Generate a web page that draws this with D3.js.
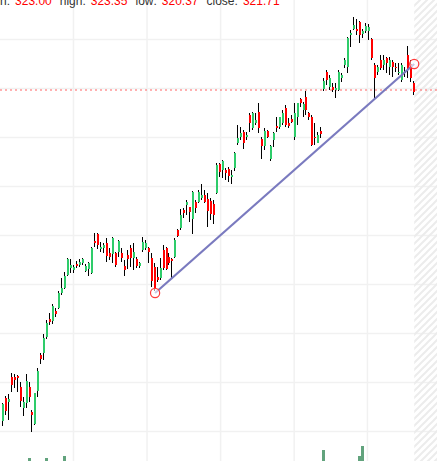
<!DOCTYPE html>
<html>
<head>
<meta charset="utf-8">
<script src="https://cdn.jsdelivr.net/npm/d3@7"></script>
<style>
  html, body { margin: 0; padding: 0; background: #fff; overflow: hidden; }
  svg { display: block; }
</style>
</head>
<body>
<svg id="chart" width="437" height="461"></svg>
<script>
// Daily candles, oldest first. Prices.
const open = [
  287.9,290.2,289.8,292.3,292.3,292.4,291.3,289.2,289.7,291.3,
  288.8,287.6,290.9,294.5,294.7,296.3,298.1,297.9,298.9,299.2,
  300.7,301.2,302.5,303.2,303.0,303.6,303.5,303.7,302.9,303.1,
  302.7,305.9,306.6,305.1,305.2,305.7,304.7,304.6,304.7,304.8,
  304.7,303.4,304.5,305.2,304.2,304.1,303.4,305.0,305.2,305.2,
  304.2,303.3,302.3,302.2,305.0,305.2,304.3,304.1,304.3,307.0,
  307.2,309.0,309.5,309.3,308.1,309.8,309.8,310.2,310.5,310.1,
  309.9,309.6,310.7,313.6,313.0,313.0,313.1,312.3,313.2,315.7,
  316.3,316.8,316.3,318.5,317.2,317.7,318.8,316.1,315.4,316.9,
  314.1,316.0,317.4,317.3,317.7,319.2,317.7,318.1,316.3,318.3,
  320.1,319.0,320.3,318.7,318.3,316.3,315.7,316.9,321.1,322.8,
  321.3,321.3,321.0,321.0,322.2,323.5,323.3,326.5,327.1,327.1,
  327.8,326.6,326.9,326.9,326.1,323.5,322.8,324.0,323.5,324.2,
  323.3,323.8,323.3,322.7,322.0,322.8,324.5,323.6,321.7
];
const high = [
  289.7,290.4,290.6,292.7,292.6,292.5,291.8,290.3,292.6,291.8,
  289.0,290.7,293.2,294.7,296.6,298.0,298.7,299.6,299.2,300.9,
  302.2,302.8,304.2,304.1,303.5,303.9,304.1,304.2,303.6,303.8,
  305.3,306.7,306.7,305.8,305.7,306.2,305.2,306.3,304.8,306.0,
  305.2,304.0,305.0,305.5,305.7,304.3,303.8,306.3,306.0,305.3,
  304.7,303.7,303.3,304.2,305.5,305.3,304.7,304.2,306.2,307.1,
  309.1,309.2,310.0,309.3,310.9,310.0,311.0,311.6,311.0,310.7,
  310.2,310.0,313.7,313.7,314.0,313.2,313.3,313.0,314.8,317.5,
  317.3,317.0,316.8,318.7,318.8,318.7,319.7,316.3,317.2,317.0,
  315.5,316.8,318.3,318.3,319.0,319.5,318.2,318.5,319.7,319.7,
  320.2,319.8,320.9,318.8,318.5,317.7,316.8,317.3,322.2,323.0,
  322.5,321.7,321.7,323.0,322.7,324.2,326.3,327.0,328.3,328.1,
  327.9,327.1,327.7,327.6,326.2,323.7,323.5,324.5,324.5,324.3,
  324.3,324.0,323.7,323.7,323.7,323.3,325.4,324.0,321.9
];
const low = [
  287.4,288.5,288.0,290.8,291.2,290.8,289.3,288.4,289.2,289.8,
  286.8,287.5,290.3,293.6,294.0,296.1,297.5,297.6,298.3,299.1,
  300.5,301.1,302.4,302.7,302.7,303.2,303.3,303.5,302.8,302.4,
  302.6,305.3,305.1,304.8,304.7,303.8,304.0,303.7,303.3,304.3,
  303.8,302.4,303.1,303.3,303.0,303.2,303.2,304.8,305.0,303.7,
  301.3,300.9,301.8,302.0,303.0,303.0,303.5,302.2,304.2,306.3,
  307.0,308.2,308.5,307.8,306.6,308.7,309.7,310.0,309.7,307.3,
  308.0,307.6,310.6,312.3,312.2,312.0,311.8,311.6,312.9,315.5,
  316.0,315.1,316.0,316.8,317.0,317.5,316.7,314.1,315.0,316.2,
  313.9,315.3,316.8,317.1,317.5,317.3,317.2,317.7,316.0,317.5,
  319.3,318.3,318.5,318.0,315.4,315.5,315.7,316.2,320.9,321.5,
  321.0,320.8,320.2,320.9,321.8,323.2,322.7,325.3,327.0,326.5,
  325.7,326.2,326.7,326.0,324.0,320.0,322.5,323.0,323.0,322.7,
  322.5,322.3,322.8,322.5,321.8,322.3,322.2,321.8,320.5
];
const close = [
  289.6,288.9,290.1,291.5,292.0,292.2,289.9,289.8,291.9,290.3,
  288.5,290.7,292.9,294.1,296.2,297.7,297.8,299.4,298.6,300.7,
  301.2,302.4,304.1,303.5,303.3,303.4,303.8,304.1,303.4,303.7,
  305.2,305.7,305.5,305.3,305.5,304.4,304.3,306.2,303.5,305.9,
  304.2,303.0,304.1,304.2,304.8,303.4,303.7,305.8,305.7,304.8,
  301.9,301.2,302.0,303.2,303.2,303.1,303.7,303.9,306.0,306.4,
  308.5,308.7,309.8,308.8,310.8,309.2,310.8,310.5,309.8,308.9,
  308.6,308.5,313.5,312.8,313.9,312.7,312.4,312.5,314.7,316.2,
  316.7,315.7,316.5,317.7,318.7,318.0,317.2,315.4,316.9,316.3,
  315.4,316.7,317.2,318.3,318.7,317.5,317.4,317.8,318.7,319.7,
  319.7,319.6,319.0,318.3,315.5,316.2,316.5,316.6,321.9,322.0,
  322.2,321.0,321.2,322.8,322.5,324.0,326.2,326.7,327.5,326.9,
  326.5,326.9,327.4,327.3,324.2,322.2,323.3,323.2,324.0,323.7,
  324.0,323.3,323.2,322.8,323.5,322.7,323.0,322.2,320.8
];

// Volume bars tall enough to reach into the frame (candle index, volume)
const volIndex = [9, 15, 21, 108, 120, 121];
const volValue = [62, 62, 64, 70, 64, 74];

// Grid lines (price levels, candle positions)
const gridPrices = [326.1, 321.2, 316.3, 311.4, 306.5, 301.6, 296.7, 291.8, 286.9];
const gridIdx = [24.1, 48.8, 73.5, 98.2, 122.8];

// Horizontal price line and drawn trend line (index, price)
const priceLine = 321.0;
const trendIdx = [51.5, 138.5];
const trendPrice = [300.7, 323.6];

// Header (hovered bar)
const headerLabels = ['open:', 'high:', 'low:', 'close:'];
const headerValues = ['323.00', '323.35', '320.37', '321.71'];

const W = 437, H = 461;
const N = open.length;
const UP = '#2ecc6a', DOWN = '#ff0000';

const svg = d3.select('#chart');
const x = d3.scaleLinear().domain([0, N - 1]).range([1.7, 412.7]);
const y = d3.scaleLinear().domain([330, 284]).range([0, 460]);
const vy = d3.scaleLinear().domain([0, 100]).range([520, 420]);

// hatch pattern for the empty future area
const defs = svg.append('defs');
const pat = defs.append('pattern')
  .attr('id', 'hatch').attr('patternUnits', 'userSpaceOnUse')
  .attr('width', 7).attr('height', 7);
pat.append('path')
  .attr('d', 'M-1,1 l2,-2 M0,7 l7,-7 M6,8 l2,-2')
  .attr('stroke', '#ececec').attr('stroke-width', 2);

// grid
svg.append('g').selectAll('line').data(gridPrices).join('line')
  .attr('x1', 0).attr('x2', W)
  .attr('y1', d => Math.round(y(d)) + 0.5).attr('y2', d => Math.round(y(d)) + 0.5)
  .attr('stroke', '#f1f1f1').attr('stroke-width', 1.5);
svg.append('g').selectAll('line').data(gridIdx).join('line')
  .attr('y1', 0).attr('y2', H)
  .attr('x1', d => x(d)).attr('x2', d => x(d))
  .attr('stroke', '#f1f1f1').attr('stroke-width', 1.5);

// hatched area right of the last bar
svg.append('rect')
  .attr('x', x(N - 0.5)).attr('y', 0)
  .attr('width', W - x(N - 0.5)).attr('height', H)
  .attr('fill', 'url(#hatch)');

// price line
svg.append('line')
  .attr('x1', 0).attr('x2', W)
  .attr('y1', y(priceLine)).attr('y2', y(priceLine))
  .attr('stroke', '#ff6464').attr('stroke-width', 1.2)
  .attr('stroke-dasharray', '2,3');

// volume
svg.append('g').selectAll('rect').data(volIndex).join('rect')
  .attr('x', d => Math.round(x(d)) - 1)
  .attr('y', (d, k) => vy(volValue[k]))
  .attr('width', 3)
  .attr('height', (d, k) => vy(0) - vy(volValue[k]))
  .attr('fill', '#62a37d');

// candles
const idx = d3.range(N);
const candles = svg.append('g').attr('shape-rendering', 'crispEdges');
candles.selectAll('line').data(idx).join('line')
  .attr('x1', i => Math.round(x(i)) + 0.5).attr('x2', i => Math.round(x(i)) + 0.5)
  .attr('y1', i => y(high[i])).attr('y2', i => y(low[i]))
  .attr('stroke', '#000').attr('stroke-width', 1);
candles.selectAll('rect').data(idx).join('rect')
  .attr('x', i => Math.round(x(i)))
  .attr('y', i => y(Math.max(open[i], close[i])))
  .attr('width', 2)
  .attr('height', i => Math.max(1, Math.abs(y(open[i]) - y(close[i]))))
  .attr('fill', i => close[i] >= open[i] ? UP : DOWN);

// trend line with end handles
svg.append('line')
  .attr('x1', x(trendIdx[0])).attr('y1', y(trendPrice[0]))
  .attr('x2', x(trendIdx[1])).attr('y2', y(trendPrice[1]))
  .attr('stroke', '#7a7abf').attr('stroke-width', 2.2);
svg.append('g').selectAll('circle').data(trendIdx).join('circle')
  .attr('cx', d => x(d)).attr('cy', (d, k) => y(trendPrice[k]))
  .attr('r', 4.6)
  .attr('fill', 'rgba(255,255,255,0.6)')
  .attr('stroke', '#ff3b3b').attr('stroke-width', 1.2);

// header: label + value pairs, laid out left to right
const header = svg.append('g')
  .attr('font-family', '"Liberation Sans", Arial, sans-serif')
  .attr('font-size', 12);
let cx = -20;
headerLabels.forEach((lab, k) => {
  const t1 = header.append('text').attr('x', cx).attr('y', 4.5)
    .attr('fill', '#333').text(lab);
  cx += t1.node().getComputedTextLength() + 5;
  const t2 = header.append('text').attr('x', cx).attr('y', 4.5)
    .attr('fill', '#ff0000').text(headerValues[k]);
  cx += t2.node().getComputedTextLength() + 8;
});
</script>
</body>
</html>
